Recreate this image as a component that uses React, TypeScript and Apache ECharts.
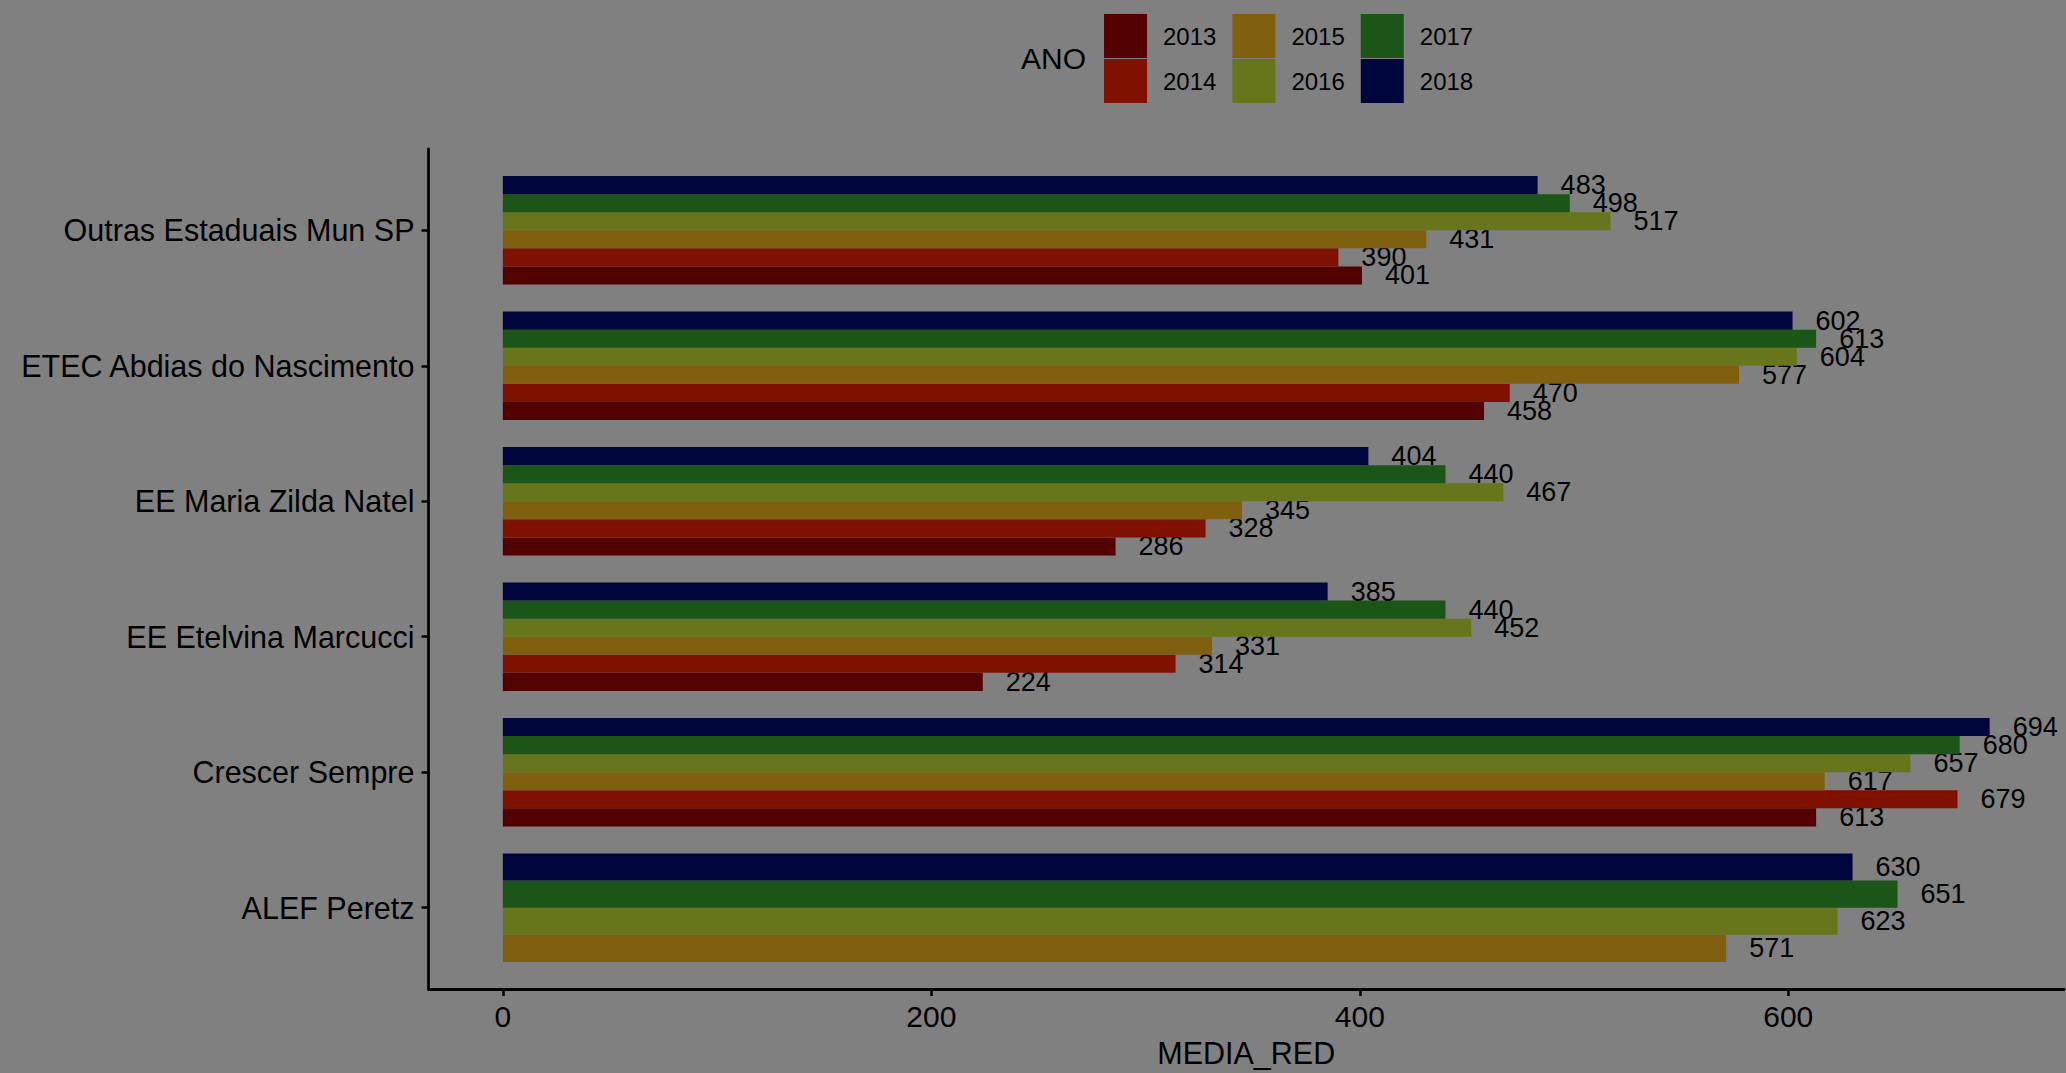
import React, { useEffect, useRef } from "react";
import * as echarts from "echarts";

const categories = [
  "ALEF Peretz",
  "Crescer Sempre",
  "EE Etelvina Marcucci",
  "EE Maria Zilda Natel",
  "ETEC Abdias do Nascimento",
  "Outras Estaduais Mun SP",
];
const years = ["2013", "2014", "2015", "2016", "2017", "2018"];
const v2013 = [null, 613, 224, 286, 458, 401];
const v2014 = [null, 679, 314, 328, 470, 390];
const v2015 = [571, 617, 331, 345, 577, 431];
const v2016 = [623, 657, 452, 467, 604, 517];
const v2017 = [651, 680, 440, 440, 613, 498];
const v2018 = [630, 694, 385, 404, 602, 483];
const xTicks = [0, 200, 400, 600];
const colors = ["#520000", "#801000", "#80600f", "#67761a", "#1b5518", "#00063b"];

const FONT = '"Liberation Sans", Arial, Helvetica, sans-serif';

export default function App() {
  const ref = useRef<HTMLDivElement>(null);
  useEffect(() => {
    if (!ref.current) return;
    const chart = echarts.init(ref.current, null, { renderer: "svg" });
    const all = [v2013, v2014, v2015, v2016, v2017, v2018];
    const series = years.map((y, yi) => {
      const data: number[][] = [];
      categories.forEach((_, ci) => {
        const val = all[yi][ci];
        if (val == null) return;
        const valid = all.map((arr) => arr[ci]).map((v, k) => (v == null ? -1 : k)).filter((k) => k >= 0);
        data.push([val as number, ci, valid.indexOf(yi), valid.length]);
      });
      return {
        type: "custom",
        name: y,
        itemStyle: { color: colors[yi] },
        encode: { x: 0, y: 1 },
        data,
        renderItem: (params: any, api: any) => {
          const val = api.value(0);
          const ci = api.value(1);
          const rank = api.value(2);
          const n = api.value(3);
          const bw = 0.8 / n;
          const yc = ci - 0.4 + (rank + 0.5) * bw;
          const start = api.coord([0, yc]);
          const end = api.coord([val, yc]);
          const h = api.size([0, bw])[1];
          return {
            type: "group",
            children: [
              {
                type: "rect",
                shape: { x: start[0], y: end[1] - h / 2, width: end[0] - start[0], height: h },
                style: { fill: api.visual("color") },
              },
              {
                type: "text",
                x: end[0] + 23,
                y: end[1],
                style: {
                  text: String(val),
                  fill: "#000",
                  fontSize: 27,
                  fontFamily: FONT,
                  align: "left",
                  verticalAlign: "middle",
                },
              },
            ],
          };
        },
      };
    });
    const legendBase = {
      orient: "horizontal",
      left: 1104,
      padding: 0,
      itemWidth: 43,
      itemHeight: 44,
      itemGap: 16,
      icon: "rect",
      selectedMode: false,
      itemStyle: { borderWidth: 0 },
      textStyle: { fontSize: 24, color: "#000", fontFamily: FONT, padding: [0, 0, 0, 11] },
    };
    chart.setOption({
      animation: false,
      backgroundColor: "#808080",
      textStyle: { fontFamily: FONT },
      title: {
        text: "ANO",
        left: 1021,
        top: 43,
        padding: 0,
        textStyle: { fontSize: 30, fontWeight: "normal", color: "#000", fontFamily: FONT },
      },
      legend: [
        { ...legendBase, top: 14, data: ["2013", "2015", "2017"] },
        { ...legendBase, top: 59, data: ["2014", "2016", "2018"] },
      ],
      grid: { left: 428.5, right: 2, top: 149, bottom: 81.5, containLabel: false },
      xAxis: {
        type: "value",
        min: -34.7,
        max: 728.7,
        name: "MEDIA_RED",
        nameLocation: "middle",
        nameGap: 48,
        nameTextStyle: { fontSize: 30.5, color: "#000", fontFamily: FONT },
        axisLine: { show: true, onZero: false, lineStyle: { color: "#000", width: 2.8 } },
        axisTick: { show: true, length: 7, customValues: xTicks, lineStyle: { color: "#000", width: 2.5 } },
        axisLabel: { customValues: xTicks, fontSize: 30, color: "#000", margin: 12, fontFamily: FONT },
        splitLine: { show: false },
      },
      yAxis: {
        type: "value",
        min: -0.6,
        max: 5.6,
        axisLine: { show: true, onZero: false, lineStyle: { color: "#000", width: 2.8 } },
        axisTick: { show: true, length: 7, customValues: [0, 1, 2, 3, 4, 5], lineStyle: { color: "#000", width: 2.5 } },
        axisLabel: {
          customValues: [0, 1, 2, 3, 4, 5],
          formatter: (v: number) => categories[Math.round(v)] ?? "",
          fontSize: 30.5,
          color: "#000",
          margin: 14,
          fontFamily: FONT,
        },
        splitLine: { show: false },
      },
      series,
    });
    return () => chart.dispose();
  }, []);
  return (
    <div
      ref={ref}
      style={{ position: "fixed", left: 0, top: 0, width: 2066, height: 1073 }}
    />
  );
}
